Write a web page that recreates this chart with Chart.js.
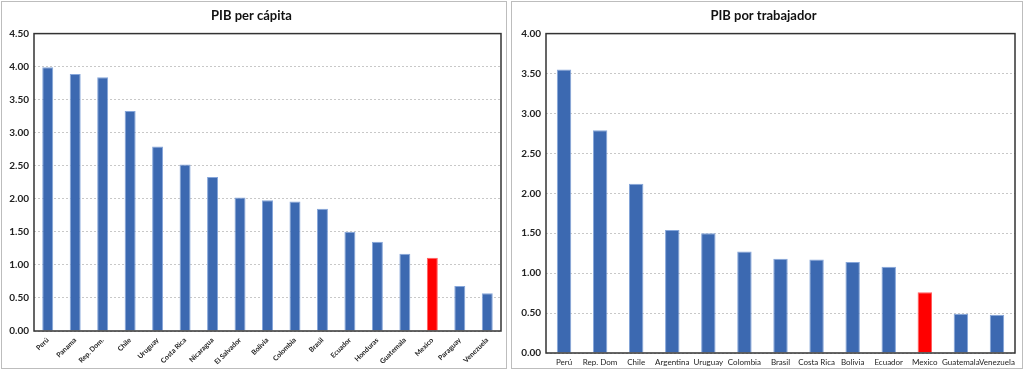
<!DOCTYPE html>
<html>
<head>
<meta charset="utf-8"/>
<script src="https://cdn.jsdelivr.net/npm/chart.js@4.4.0/dist/chart.umd.min.js"></script>
<style>
	body { margin: 0; background: #fff; width: 1024px; height: 371px; overflow: hidden; }
	.panel { position: absolute; top: 1px; height: 366px; border: 1px solid #bdbdbd; background: #fff; }
	#p1 { left: 1px; width: 504px; }
	#p2 { left: 511px; width: 510px; }
	canvas { display: block; }
</style>
<script>
// PIB per cápita
var paises1 = ["Perú", "Panama", "Rep. Dom.", "Chile", "Uruguay", "Costa Rica", "Nicaragua", "El Salvador",
	"Bolivia", "Colombia", "Brasil", "Ecuador", "Honduras", "Guatemala", "Mexico", "Paraguay", "Venezuela"];
var valores1 = [3.99, 3.89, 3.84, 3.33, 2.79, 2.52, 2.33, 2.02, 1.98, 1.96, 1.85, 1.50, 1.35, 1.17, 1.11, 0.68, 0.57];

// PIB por trabajador
var paises2 = ["Perú", "Rep. Dom", "Chile", "Argentina", "Uruguay", "Colombia", "Brasil", "Costa Rica",
	"Bolivia", "Ecuador", "Mexico", "Guatemala", "Venezuela"];
var valores2 = [3.55, 2.79, 2.12, 1.54, 1.50, 1.27, 1.18, 1.17, 1.14, 1.08, 0.76, 0.49, 0.48];

var ejeY1 = { min: 0, max: 4.5, step: 0.5 };
var ejeY2 = { min: 0, max: 4.0, step: 0.5 };
</script>
</head>
<body>
<div class="panel" id="p1"><canvas id="c1" width="504" height="366"></canvas></div>
<div class="panel" id="p2"><canvas id="c2" width="510" height="366"></canvas></div>
<script>
	var AZUL = "#3c69b1";
	var ROJO = "#ff0000";

	// marco negro alrededor del area de grafico
	var marco = {
		id: "marco",
		afterDraw: function(chart) {
			var a = chart.chartArea, ctx = chart.ctx;
			ctx.save();
			ctx.strokeStyle = "#333";
			ctx.lineWidth = 1.5;
			ctx.strokeRect(a.left, a.top, a.right - a.left, a.bottom - a.top);
			ctx.restore();
		}
	};

	function colores(labels) {
		return labels.map(function(l) { return l == "Mexico" ? ROJO : AZUL; });
	}

	function bordes(labels) {
		return labels.map(function(l) { return l == "Mexico" ? "#ff6060" : "#86a6da"; });
	}

	function dibujar(id, titulo, labels, datos, eje, anchoY, altoX, padDer, rot, fx, peso) {
		var ctx = document.getElementById(id).getContext("2d");
		return new Chart(ctx, {
			type: "bar",
			data: {
				labels: labels,
				datasets: [{
					data: datos,
					backgroundColor: colores(labels),
					borderColor: bordes(labels),
					borderWidth: 1,
					barPercentage: 0.4,
					categoryPercentage: 1
				}]
			},
			plugins: [marco],
			options: {
				responsive: false,
				animation: false,
				layout: { padding: { left: 0, right: padDer, top: 0, bottom: 0 } },
				plugins: {
					legend: { display: false },
					tooltip: { enabled: false },
					title: {
						display: true,
						text: titulo,
						color: "#111",
						font: { family: "Lato", size: 13, weight: "bold" },
						padding: { top: 6, bottom: 10 }
					}
				},
				scales: {
					x: {
						grid: { display: false, drawTicks: false },
						border: { display: false },
						ticks: {
							autoSkip: false,
							minRotation: rot,
							maxRotation: rot,
							padding: 5,
							color: "#222",
							font: { family: "Lato", size: fx, weight: peso }
						},
						afterFit: function(s) { s.height = altoX; }
					},
					y: {
						min: eje.min,
						max: eje.max,
						grid: { color: "#c8c8c8", drawTicks: false },
						border: { display: false, dash: [2, 2] },
						ticks: {
							stepSize: eje.step,
							padding: 5,
							color: "#222",
							font: { family: "Lato", size: 10, weight: "bold" },
							callback: function(v) { return v.toFixed(2); }
						},
						afterFit: function(s) { s.width = anchoY; }
					}
				}
			}
		});
	}

	dibujar("c1", "PIB per cápita", paises1, valores1, ejeY1, 32, 37, 5, 45, 7, "bold");
	dibujar("c2", "PIB por trabajador", paises2, valores2, ejeY2, 34, 15, 7, 0, 8, "normal");
</script>
</body>
</html>
